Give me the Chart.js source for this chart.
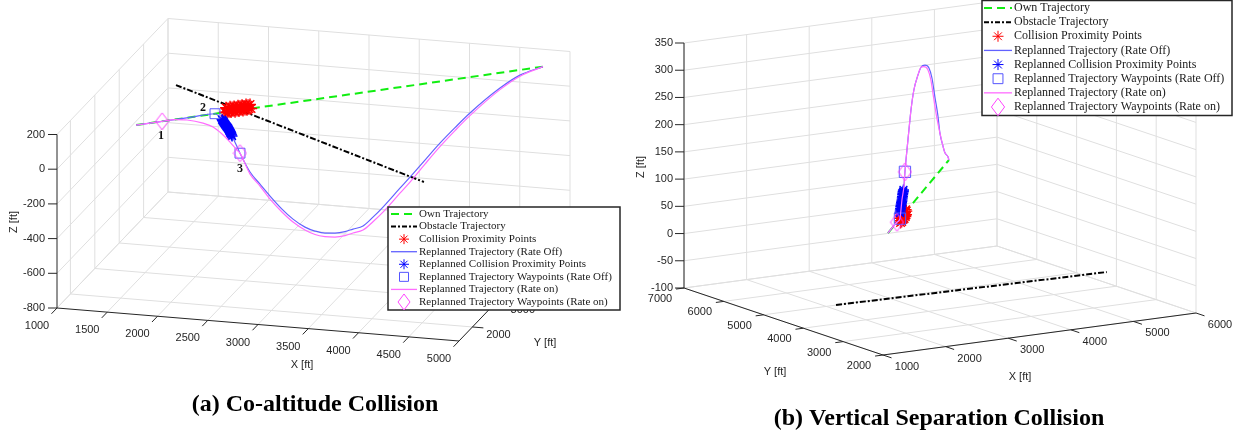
<!DOCTYPE html>
<html><head><meta charset="utf-8">
<style>html,body{margin:0;padding:0;background:#fff;overflow:hidden}canvas{display:block}</style>
<script src="https://cdn.jsdelivr.net/npm/chart.js@4.4.1/dist/chart.umd.min.js"></script>
</head><body>
<canvas id="c" width="1241" height="435"></canvas>
<script>
// ======================= DATA =======================
const legendLabels = ['Own Trajectory','Obstacle Trajectory','Collision Proximity Points','Replanned Trajectory (Rate Off)','Replanned Collision Proximity Points','Replanned Trajectory Waypoints (Rate Off)','Replanned Trajectory (Rate on)','Replanned Trajectory Waypoints (Rate on)'];
const captions = ['(a) Co-altitude Collision','(b) Vertical Separation Collision'];
const axisTitles = ['X [ft]','Y [ft]','Z [ft]'];

// ---- Panel (a) Co-altitude Collision ----
const aTickX = [1000,1500,2000,2500,3000,3500,4000,4500,5000];
const aTickY = [2000,3000,4000,5000,6000];
const aTickZ = [-800,-600,-400,-200,0,200];
const aOwnX = [1493,4731], aOwnY = [2660,6000], aOwnZ = [100,100];
const aObsX = [1508,4651], aObsY = [4234,1450], aObsZ = [100,100];
const aColX = [2201,2209,2217,2225,2233,2241,2249,2257,2265,2273,2281,2289,2296,2304,2312,2320,2328,2336,2344,2352,2360,2368,2376,2384,2392,2400,2408];
const aColY = [3390,3399,3407,3415,3423,3431,3440,3448,3456,3464,3472,3481,3489,3497,3505,3513,3522,3530,3538,3546,3554,3563,3571,3579,3587,3595,3604];
const aColZ = [100,125,95,120,100,128,96,122,102,126,95,120,100,127,96,122,101,126,95,121,100,127,96,122,101,124,100];
const aOffX = [1493,1700,1923,2121,2177,2225,2273,2320,2400,2479,2559,2654,2742,2837,2917,2996,3076,3156,3219,3299,3378,3458,3593,3673,3792,3911,4031,4150,4389,4548,4731];
const aOffY = [2660,2873,3103,3308,3366,3415,3464,3513,3595,3678,3760,3858,3948,4047,4129,4211,4293,4375,4441,4523,4605,4687,4826,4908,5032,5155,5278,5401,5647,5811,6000];
const aOffZ = [100,100,100,100,58,7,-68,-148,-265,-343,-420,-505,-572,-628,-659,-679,-687,-687,-679,-670,-627,-577,-482,-427,-341,-256,-179,-107,12,70,100];
const aRcpX = [2177,2181,2185,2189,2193,2197,2201,2205,2209,2213,2217,2221,2225,2229,2233,2237,2241,2245,2249,2253,2257];
const aRcpY = [3366,3370,3374,3378,3382,3386,3390,3394,3399,3403,3407,3411,3415,3419,3423,3427,3431,3436,3440,3444,3448];
const aRcpZ = [60,55,51,46,42,37,32,27,22,18,14,10,6,0,-6,-12,-18,-24,-30,-36,-43];
const aWpOffX = [2121,2320], aWpOffY = [3308,3513], aWpOffZ = [100,-148];
const aOnX = [1493,1700,1803,1899,2026,2106,2177,2241,2296,2320,2400,2479,2559,2654,2742,2837,2917,2996,3076,3156,3219,3299,3378,3458,3593,3673,3792,3911,4031,4150,4389,4548,4731];
const aOnY = [2660,2873,2980,3078,3210,3292,3366,3431,3489,3513,3595,3678,3760,3858,3948,4047,4129,4211,4293,4375,4441,4523,4605,4687,4826,4908,5032,5155,5278,5401,5647,5811,6000];
const aOnZ = [100,100,99,87,56,25,-23,-76,-128,-148,-277,-354,-438,-522,-589,-645,-679,-699,-710,-710,-702,-693,-653,-606,-511,-455,-364,-276,-196,-122,3,64,100];
const aWpOnX = [1700,2320], aWpOnY = [2873,3513], aWpOnZ = [100,-148];
const aWpLabels = ['1','2','3'];
const aWpLabX = [1700,2121,2320], aWpLabY = [2873,3308,3513], aWpLabZ = [100,100,-148];

// ---- Panel (b) Vertical Separation Collision ----
const bTickX = [1000,2000,3000,4000,5000,6000];
const bTickY = [2000,3000,4000,5000,6000,7000];
const bTickZ = [-100,-50,0,50,100,150,200,250,300,350];
const bOwnX = [1501,4674], bOwnY = [2663,6122], bOwnZ = [100,100];
const bObsX = [1790,6000], bObsY = [4423,4243], bObsZ = [-80,-80];
const bColX = [2136,2152,2167,2183,2199,2215,2231,2247,2263,2278,2294,2310,2326,2342,2358,2373,2389,2405,2421,2437,2453];
const bColY = [3355,3372,3389,3407,3424,3441,3459,3476,3493,3510,3528,3545,3562,3580,3597,3614,3632,3649,3666,3683,3701];
const bColZ = [100,92,104,94,100,91,103,95,100,92,104,94,100,91,103,95,100,92,104,94,100];
const bOffX = [1501,1969,2125,2177,2229,2333,2385,2489,2593,2697,2853,3061,3218,3426,3634,3790,3946,4102,4206,4362,4466,4622,4674];
const bOffY = [2663,3173,3343,3400,3457,3570,3627,3740,3854,3967,4137,4364,4534,4761,4988,5158,5328,5498,5612,5782,5895,6065,6122];
const bOffZ = [100,100,100,114,130,151,175,211,243,275,306,324,332,327,313,288,246,205,169,139,122,108,100];
const bRcpX = [2125,2133,2141,2154,2167,2180,2193,2206,2219,2232,2245,2255,2266,2276,2286,2297,2307];
const bRcpY = [3343,3351,3360,3374,3389,3403,3417,3431,3445,3459,3474,3485,3497,3508,3519,3530,3542];
const bRcpZ = [110,112,115,117,120,122,124,126,128,130,133,135,138,140,142,143,145];
const bWpOffX = [2125,2385], bWpOffY = [3343,3627], bWpOffZ = [100,175];
const bOnX = [1501,1969,2125,2177,2229,2333,2385,2489,2593,2697,2853,3061,3218,3363,3571,3727,3883,4039,4206,4362,4466,4622,4674];
const bOnY = [2663,3173,3343,3400,3457,3570,3627,3740,3854,3967,4137,4364,4534,4692,4919,5089,5259,5429,5612,5782,5895,6065,6122];
const bOnZ = [100,100,100,114,130,151,175,211,243,275,306,324,332,327,313,288,246,205,169,139,122,108,100];
const bWpOnX = [1969,2385], bWpOnY = [3173,3627], bWpOnZ = [100,175];

// ======================= VIEW GEOMETRY (orthographic 3-D views) =======================
const geoA = {o:[57,308], ex:[402,33], ey:[111,-116], ez:[0,-173.5], xr:[1000,5000], yr:[1450,6000], zr:[-800,200],
  sideX:'min', backY:'max', zAxisY:'min', yAxisX:'max'};
const geoB = {o:[883,355], ex:[313,-42], ey:[-199,-67], ez:[0,-245], xr:[1000,6000], yr:[2000,7000], zr:[-100,350],
  sideX:'max', backY:'max', zAxisY:'max', yAxisX:'min'};

function P(g, X, Y, Z){
  const u=(X-g.xr[0])/(g.xr[1]-g.xr[0]), v=(Y-g.yr[0])/(g.yr[1]-g.yr[0]), w=(Z-g.zr[0])/(g.zr[1]-g.zr[0]);
  return {x:g.o[0]+u*g.ex[0]+v*g.ey[0]+w*g.ez[0], y:g.o[1]+u*g.ex[1]+v*g.ey[1]+w*g.ez[1]};
}
function pts(g, X, Y, Z){ return X.map((x,i)=>P(g,x,Y[i],Z[i])); }
const GAP = {x:null,y:null};
function segData(g, segs){ const d=[]; segs.forEach(s=>{ d.push(P(g,...s[0]),P(g,...s[1]),GAP); }); return d; }
function unit(v){ const l=Math.hypot(v[0],v[1]); return [v[0]/l,v[1]/l]; }

function gridSegs(g, tx, ty, tz){
  const s=[], z0=g.zr[0], z1=g.zr[1];
  const sx = g.sideX==='min'?g.xr[0]:g.xr[1], by = g.backY==='min'?g.yr[0]:g.yr[1];
  tx.forEach(x=>s.push([[x,g.yr[0],z0],[x,g.yr[1],z0]]));
  ty.forEach(y=>s.push([[g.xr[0],y,z0],[g.xr[1],y,z0]]));
  tx.forEach(x=>s.push([[x,by,z0],[x,by,z1]]));
  tz.forEach(z=>s.push([[g.xr[0],by,z],[g.xr[1],by,z]]));
  ty.forEach(y=>s.push([[sx,y,z0],[sx,y,z1]]));
  tz.forEach(z=>s.push([[sx,g.yr[0],z],[sx,g.yr[1],z]]));
  return s;
}
function axisSegs(g){
  const zy = g.zAxisY==='min'?g.yr[0]:g.yr[1], yx = g.yAxisX==='min'?g.xr[0]:g.xr[1];
  return [[[g.xr[0],g.yr[0],g.zr[0]],[g.xr[1],g.yr[0],g.zr[0]]],
          [[yx,g.yr[0],g.zr[0]],[yx,g.yr[1],g.zr[0]]],
          [[g.xr[0],zy,g.zr[0]],[g.xr[0],zy,g.zr[1]]]];
}
const tickCfg = {
  A:{x:{dir:unit([-111,116]),len:8,off:[-20,18]}, y:{dir:unit([402,33]),len:11,off:[26,8]}, z:{dir:[-1,0],len:9,off:[-12,0]},
     titles:{x:[302,365],y:[545,343],z:[14,222]}},
  B:{x:{dir:unit([199,67]),len:9,off:[24,12]}, y:{dir:unit([-313,42]),len:8,off:[-24,11]}, z:{dir:[-1,0],len:9,off:[-11,0]},
     titles:{x:[1020,377],y:[775,372],z:[641,167]}}
};
function tickPoints(g, tx, ty, tz){
  const zy = g.zAxisY==='min'?g.yr[0]:g.yr[1], yx = g.yAxisX==='min'?g.xr[0]:g.xr[1];
  return {x:tx.map(v=>P(g,v,g.yr[0],g.zr[0])), y:ty.map(v=>P(g,yx,v,g.zr[0])), z:tz.map(v=>P(g,g.xr[0],zy,v))};
}
function tickMarkData(tp, cfg){
  const d=[];
  ['x','y','z'].forEach(k=>{ const c=cfg[k]; tp[k].forEach(p=>{ d.push(p,{x:p.x+c.dir[0]*c.len,y:p.y+c.dir[1]*c.len},GAP); }); });
  return d;
}
const tpA = tickPoints(geoA,aTickX,aTickY,aTickZ), tpB = tickPoints(geoB,bTickX,bTickY,bTickZ);

// ======================= STYLES =======================
const C = {grid:'#dfdfdf', axis:'#262626', own:'#11ee11', obs:'#000000', red:'#ff0000', offLine:'#6262ff', rcp:'#0000ff', sq:'#5555ff', onLine:'#ff6cff', dia:'#ff44ff'};
function diamondImg(w,h,color){
  const c=document.createElement('canvas'); c.width=w+2; c.height=h+2; const g=c.getContext('2d');
  g.strokeStyle=color; g.lineWidth=1; g.beginPath();
  g.moveTo(c.width/2,1); g.lineTo(c.width-1,c.height/2); g.lineTo(c.width/2,c.height-1); g.lineTo(1,c.height/2); g.closePath(); g.stroke();
  return c;
}
const diaA = diamondImg(13,17,C.dia), diaB = diamondImg(13,18,C.dia);

function lineDS(data,color,width,dash,order,mono){
  return {data, showLine:true, borderColor:color, borderWidth:width, borderDash:dash||[], pointRadius:0, fill:false, spanGaps:false, order,
          tension: mono?0.4:0, cubicInterpolationMode: mono?'monotone':'default'};
}
function markDS(data,color,style,r,order,bw){
  return {data, showLine:false, pointStyle:style, pointRadius:r, pointBorderColor:color, pointBackgroundColor:'rgba(0,0,0,0)', pointBorderWidth:bw||1, borderColor:color, order};
}

function panelDatasets(g, tx, ty, tz, tp, cfg, d, dia, sqR){
  return [
    lineDS(segData(g, gridSegs(g,tx,ty,tz)), C.grid, 1, [], 100),
    lineDS(segData(g, axisSegs(g)), C.axis, 1, [], 95),
    lineDS(tickMarkData(tp,cfg), C.axis, 1, [], 95),
    lineDS(pts(g,d.ownX,d.ownY,d.ownZ), C.own, 2, [8,5], 60),
    lineDS(pts(g,d.obsX,d.obsY,d.obsZ), C.obs, 2, [6,2,2,2], 59),
    markDS(pts(g,d.colX,d.colY,d.colZ), C.red, 'star', 6, 58, 1.4),
    lineDS(pts(g,d.offX,d.offY,d.offZ), C.offLine, 1.2, [], 57, true),
    markDS(pts(g,d.rcpX,d.rcpY,d.rcpZ), C.rcp, 'star', 5.5, 56, 1.4),
    markDS(pts(g,d.wpOffX,d.wpOffY,d.wpOffZ), C.sq, 'rect', sqR, 55),
    lineDS(pts(g,d.onX,d.onY,d.onZ), C.onLine, 1.2, [], 54, true),
    markDS(pts(g,d.wpOnX,d.wpOnY,d.wpOnZ), C.dia, dia, 8, 53)
  ];
}
const dsA = panelDatasets(geoA,aTickX,aTickY,aTickZ,tpA,tickCfg.A,
  {ownX:aOwnX,ownY:aOwnY,ownZ:aOwnZ,obsX:aObsX,obsY:aObsY,obsZ:aObsZ,colX:aColX,colY:aColY,colZ:aColZ,offX:aOffX,offY:aOffY,offZ:aOffZ,
   rcpX:aRcpX,rcpY:aRcpY,rcpZ:aRcpZ,wpOffX:aWpOffX,wpOffY:aWpOffY,wpOffZ:aWpOffZ,onX:aOnX,onY:aOnY,onZ:aOnZ,wpOnX:aWpOnX,wpOnY:aWpOnY,wpOnZ:aWpOnZ}, diaA, 7);
const dsB = panelDatasets(geoB,bTickX,bTickY,bTickZ,tpB,tickCfg.B,
  {ownX:bOwnX,ownY:bOwnY,ownZ:bOwnZ,obsX:bObsX,obsY:bObsY,obsZ:bObsZ,colX:bColX,colY:bColY,colZ:bColZ,offX:bOffX,offY:bOffY,offZ:bOffZ,
   rcpX:bRcpX,rcpY:bRcpY,rcpZ:bRcpZ,wpOffX:bWpOffX,wpOffY:bWpOffY,wpOffZ:bWpOffZ,onX:bOnX,onY:bOnY,onZ:bOnZ,wpOnX:bWpOnX,wpOnY:bWpOnY,wpOnZ:bWpOnZ}, diaB, 8);

const legStyle = [
  {kind:'line',color:C.own,width:2,dash:[8,5]},
  {kind:'line',color:C.obs,width:2,dash:[5,2,2,2]},
  {kind:'star',color:C.red},
  {kind:'line',color:C.offLine,width:1.3},
  {kind:'star',color:C.rcp},
  {kind:'rect',color:C.sq},
  {kind:'line',color:C.onLine,width:1.3},
  {kind:'dia',color:C.dia}
];
const legendBoxes = [
  {x:388,y:207,w:232,h:103,y0:214,dy:12.57,s0:391,s1:417,tx:419,font:'11px "Liberation Serif"',ms:1},
  {x:982,y:0.5,w:250,h:115,y0:8,dy:14.14,s0:984,s1:1012,tx:1014,font:'12px "Liberation Serif"',ms:1.1}
];

function drawMarker(ctx, st, x, y, s){
  ctx.save(); ctx.strokeStyle=st.color; ctx.lineWidth=1; ctx.setLineDash([]); ctx.beginPath();
  if(st.kind==='star'){ const r=5*s; for(let a=0;a<4;a++){ const t=a*Math.PI/4; ctx.moveTo(x-r*Math.cos(t),y-r*Math.sin(t)); ctx.lineTo(x+r*Math.cos(t),y+r*Math.sin(t)); } }
  else if(st.kind==='rect'){ const h=4.5*s; ctx.rect(x-h,y-h,2*h,2*h); }
  else if(st.kind==='dia'){ const w=6*s,h=8*s; ctx.moveTo(x,y-h); ctx.lineTo(x+w,y); ctx.lineTo(x,y+h); ctx.lineTo(x-w,y); ctx.closePath(); }
  ctx.stroke(); ctx.restore();
}

const textPlugin = {
  id:'texts',
  afterDatasetsDraw(chart){
    const ctx=chart.ctx, sx=chart.scales.x, sy=chart.scales.y;
    const px=p=>sx.getPixelForValue(p.x), py=p=>sy.getPixelForValue(p.y);
    ctx.save();
    ctx.fillStyle='#262626'; ctx.font='11px "Liberation Sans", Arial, sans-serif'; ctx.textBaseline='middle';
    const drawTicks=(tp,cfg,tx,ty,tz)=>{
      ctx.textAlign='center';
      tp.x.forEach((p,i)=>ctx.fillText(String(tx[i]), px(p)+cfg.x.off[0], py(p)+cfg.x.off[1]));
      tp.y.forEach((p,i)=>ctx.fillText(String(ty[i]), px(p)+cfg.y.off[0], py(p)+cfg.y.off[1]));
      ctx.textAlign='right';
      tp.z.forEach((p,i)=>ctx.fillText(String(tz[i]), px(p)+cfg.z.off[0], py(p)+cfg.z.off[1]));
      ctx.textAlign='center';
      const t=cfg.titles;
      ctx.fillText(axisTitles[0], sx.getPixelForValue(t.x[0]), sy.getPixelForValue(t.x[1]));
      ctx.fillText(axisTitles[1], sx.getPixelForValue(t.y[0]), sy.getPixelForValue(t.y[1]));
      ctx.save(); ctx.translate(sx.getPixelForValue(t.z[0]), sy.getPixelForValue(t.z[1])); ctx.rotate(-Math.PI/2); ctx.fillText(axisTitles[2],0,0); ctx.restore();
    };
    drawTicks(tpA,tickCfg.A,aTickX,aTickY,aTickZ);
    drawTicks(tpB,tickCfg.B,bTickX,bTickY,bTickZ);
    const labOff=[[-1,15],[-12,-6],[0,16]];
    ctx.fillStyle='#111'; ctx.font='bold 12px "Liberation Serif", serif'; ctx.textAlign='center';
    aWpLabels.forEach((t,i)=>{ const p=P(geoA,aWpLabX[i],aWpLabY[i],aWpLabZ[i]); ctx.fillText(t, px(p)+labOff[i][0], py(p)+labOff[i][1]); });
    ctx.restore();
  },
  afterDraw(chart){
    const ctx=chart.ctx;
    ctx.save();
    legendBoxes.forEach(L=>{
      ctx.fillStyle='#fff'; ctx.fillRect(L.x,L.y,L.w,L.h);
      ctx.strokeStyle='#262626'; ctx.lineWidth=1.5; ctx.setLineDash([]); ctx.strokeRect(L.x,L.y,L.w,L.h);
      ctx.font=L.font; ctx.textBaseline='middle'; ctx.textAlign='left';
      legendLabels.forEach((t,i)=>{
        const y=L.y0+i*L.dy, st=legStyle[i];
        if(st.kind==='line'){ ctx.save(); ctx.strokeStyle=st.color; ctx.lineWidth=st.width; ctx.setLineDash(st.dash||[]); ctx.beginPath(); ctx.moveTo(L.s0,y); ctx.lineTo(L.s1,y); ctx.stroke(); ctx.restore(); }
        else drawMarker(ctx, st, (L.s0+L.s1)/2, y, L.ms);
        ctx.fillStyle='#1a1a1a'; ctx.fillText(t, L.tx, y);
      });
    });
    ctx.fillStyle='#000'; ctx.font='bold 24px "Liberation Serif", serif'; ctx.textAlign='center'; ctx.textBaseline='middle';
    ctx.fillText(captions[0], 315, 405);
    ctx.fillText(captions[1], 939, 419);
    ctx.restore();
  }
};

new Chart(document.getElementById('c'), {
  type:'scatter',
  data:{datasets:[...dsA, ...dsB]},
  options:{
    responsive:false, animation:false, devicePixelRatio:1, events:[],
    layout:{padding:0, autoPadding:false},
    plugins:{legend:{display:false}, tooltip:{enabled:false}},
    scales:{
      x:{type:'linear', min:0, max:1241, display:false},
      y:{type:'linear', min:0, max:435, reverse:true, display:false}
    }
  },
  plugins:[textPlugin]
});
</script>
</body></html>
